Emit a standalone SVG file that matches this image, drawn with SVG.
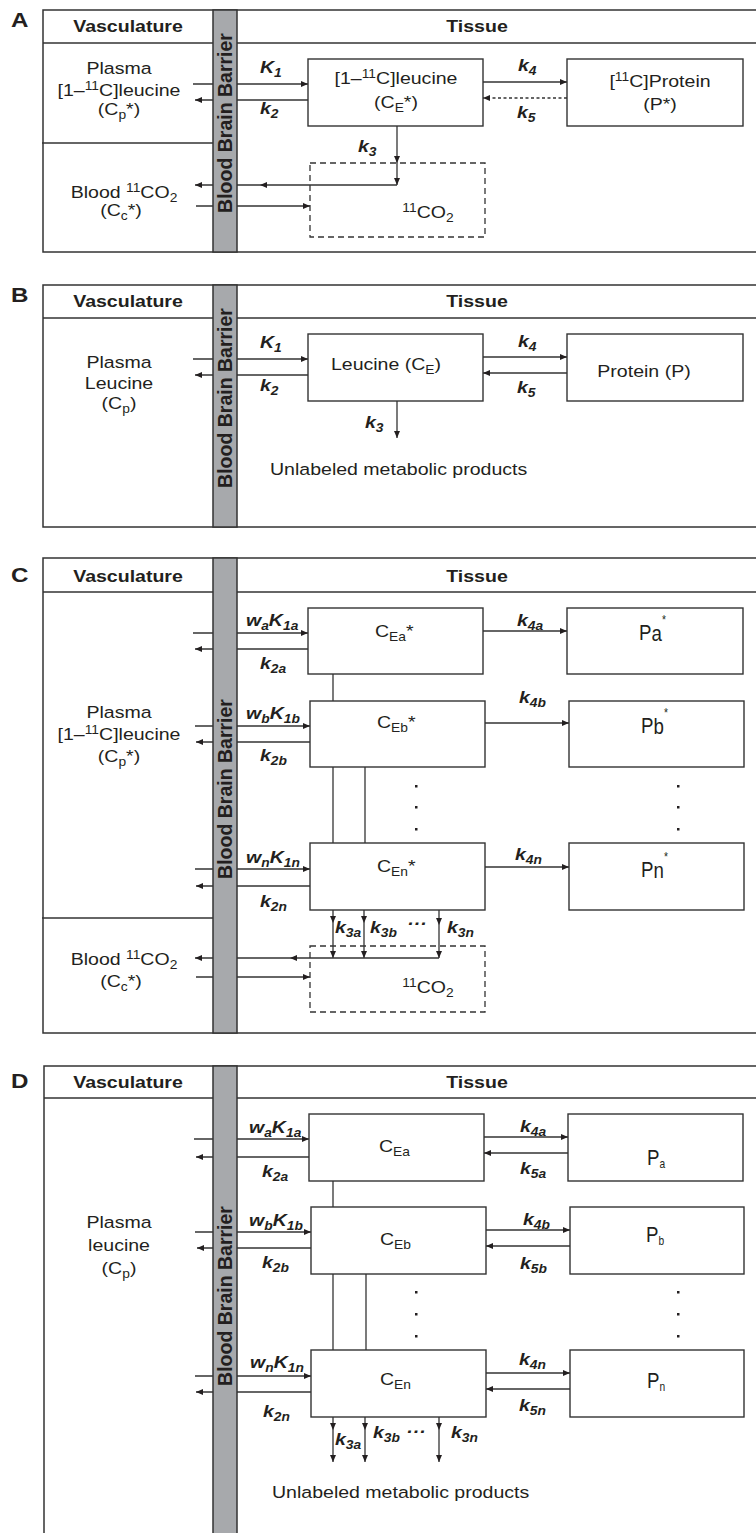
<svg xmlns="http://www.w3.org/2000/svg" width="756" height="1533" viewBox="0 0 756 1533">
<defs>
<style>
text{font-family:"Liberation Sans",Arial,Helvetica,sans-serif;fill:#231f20}
.fr{fill:none;stroke:#333;stroke-width:1.5}
.bx{fill:#fff;stroke:#333;stroke-width:1.4}
.dbx{fill:none;stroke:#333;stroke-width:1.3;stroke-dasharray:6 4}
.bbb{fill:#a7a9ac;stroke:#333;stroke-width:1.5}
.ln{fill:none;stroke:#333;stroke-width:1.3}
.ar{fill:none;stroke:#333;stroke-width:1.3;marker-end:url(#ah)}
.ard{fill:none;stroke:#333;stroke-width:1.3;stroke-dasharray:3 2.5;marker-end:url(#ah)}
.t{font-size:17px;text-anchor:middle}
.ts{font-size:17px}
.h{font-size:17px;font-weight:bold;text-anchor:middle}
.pl{font-size:21px;font-weight:bold}
.k{font-size:17px;font-weight:bold;font-style:italic}
.s{font-size:12px}
.bb{font-size:19.5px;font-weight:bold;text-anchor:middle}
.P{font-size:22px}
.dot{fill:#231f20}
</style>
<marker id="ah" markerWidth="7" markerHeight="6" refX="7" refY="3" orient="auto" markerUnits="userSpaceOnUse"><path d="M0,0 L7,3 L0,6 z" fill="#231f20"/></marker>
</defs>
<rect width="756" height="1533" fill="#fff"/>

<!-- ================= PANEL FRAMES ================= -->
<g id="panel-A-frame">
<rect class="fr" x="43" y="10" width="730" height="242"/>
<line class="fr" x1="43" y1="43" x2="756" y2="43"/>
<line class="fr" x1="42" y1="143" x2="213" y2="143"/>
<text class="pl" transform="translate(11 27) scale(1.15 1)">A</text>
<text class="h" transform="translate(128 32) scale(1.15 1)">Vasculature</text>
<text class="h" transform="translate(477 32) scale(1.15 1)">Tissue</text>
</g>
<g id="panel-B-frame">
<rect class="fr" x="43" y="285" width="730" height="242"/>
<line class="fr" x1="43" y1="318" x2="756" y2="318"/>
<text class="pl" transform="translate(11 302) scale(1.15 1)">B</text>
<text class="h" transform="translate(128 307) scale(1.15 1)">Vasculature</text>
<text class="h" transform="translate(477 307) scale(1.15 1)">Tissue</text>
</g>
<g id="panel-C-frame">
<rect class="fr" x="43" y="558" width="730" height="475"/>
<line class="fr" x1="43" y1="592" x2="756" y2="592"/>
<line class="fr" x1="42" y1="918" x2="213" y2="918"/>
<text class="pl" transform="translate(11 582) scale(1.15 1)">C</text>
<text class="h" transform="translate(128 582) scale(1.15 1)">Vasculature</text>
<text class="h" transform="translate(477 582) scale(1.15 1)">Tissue</text>
</g>
<g id="panel-D-frame">
<rect class="fr" x="44" y="1066" width="730" height="500"/>
<line class="fr" x1="44" y1="1098" x2="756" y2="1098"/>
<text class="pl" transform="translate(11 1088) scale(1.15 1)">D</text>
<text class="h" transform="translate(128 1088) scale(1.15 1)">Vasculature</text>
<text class="h" transform="translate(477 1088) scale(1.15 1)">Tissue</text>
</g>

<!-- ================= CONNECTORS ================= -->
<g id="connectors">
<!-- A -->
<line class="ar" x1="193" y1="84" x2="308" y2="84"/>
<line class="ar" x1="308" y1="100" x2="195" y2="100"/>
<line class="ar" x1="483" y1="82" x2="567" y2="82"/>
<line class="ard" x1="567" y1="98" x2="483" y2="98"/>
<line class="ar" x1="397" y1="126" x2="397" y2="163"/>
<line class="ar" x1="397" y1="163" x2="397" y2="185"/>
<line class="ar" x1="397" y1="185" x2="260" y2="185"/>
<line class="ar" x1="260" y1="185" x2="195" y2="185"/>
<line class="ar" x1="196" y1="206" x2="310" y2="206"/>
<!-- B -->
<line class="ar" x1="193" y1="359" x2="308" y2="359"/>
<line class="ar" x1="308" y1="375" x2="195" y2="375"/>
<line class="ar" x1="483" y1="357" x2="567" y2="357"/>
<line class="ar" x1="567" y1="373" x2="483" y2="373"/>
<line class="ar" x1="397" y1="401" x2="397" y2="438"/>
<!-- C -->
<line class="ar" x1="193" y1="633" x2="308" y2="633"/>
<line class="ar" x1="308" y1="649" x2="195" y2="649"/>
<line class="ar" x1="483" y1="631" x2="567" y2="631"/>
<line class="ln" x1="333" y1="674" x2="333" y2="701"/>
<line class="ar" x1="195" y1="726" x2="310" y2="726"/>
<line class="ar" x1="310" y1="742" x2="196" y2="742"/>
<line class="ar" x1="485" y1="723" x2="569" y2="723"/>
<line class="ln" x1="333" y1="767" x2="333" y2="843"/>
<line class="ln" x1="365" y1="767" x2="365" y2="843"/>
<line class="ar" x1="195" y1="869" x2="310" y2="869"/>
<line class="ar" x1="310" y1="886" x2="196" y2="886"/>
<line class="ar" x1="485" y1="867" x2="569" y2="867"/>
<line class="ar" x1="333" y1="910" x2="333" y2="923"/>
<line class="ar" x1="333" y1="923" x2="333" y2="958"/>
<line class="ar" x1="364" y1="910" x2="364" y2="923"/>
<line class="ar" x1="364" y1="923" x2="364" y2="958"/>
<line class="ar" x1="439" y1="910" x2="439" y2="925"/>
<line class="ar" x1="439" y1="925" x2="439" y2="958"/>
<line class="ar" x1="439" y1="958" x2="290" y2="958"/>
<line class="ar" x1="290" y1="958" x2="195" y2="958"/>
<line class="ar" x1="196" y1="977" x2="310" y2="977"/>
<!-- D -->
<line class="ar" x1="194" y1="1139" x2="309" y2="1139"/>
<line class="ar" x1="309" y1="1157" x2="196" y2="1157"/>
<line class="ar" x1="484" y1="1137" x2="568" y2="1137"/>
<line class="ar" x1="568" y1="1153" x2="484" y2="1153"/>
<line class="ln" x1="333" y1="1181" x2="333" y2="1207"/>
<line class="ar" x1="195" y1="1232" x2="311" y2="1232"/>
<line class="ar" x1="311" y1="1248" x2="197" y2="1248"/>
<line class="ar" x1="486" y1="1230" x2="570" y2="1230"/>
<line class="ar" x1="570" y1="1246" x2="486" y2="1246"/>
<line class="ln" x1="333" y1="1274" x2="333" y2="1350"/>
<line class="ln" x1="366" y1="1274" x2="366" y2="1350"/>
<line class="ar" x1="195" y1="1376" x2="311" y2="1376"/>
<line class="ar" x1="311" y1="1392" x2="196" y2="1392"/>
<line class="ar" x1="486" y1="1373" x2="570" y2="1373"/>
<line class="ar" x1="570" y1="1389" x2="486" y2="1389"/>
<line class="ar" x1="333" y1="1417" x2="333" y2="1430"/>
<line class="ar" x1="333" y1="1430" x2="333" y2="1462"/>
<line class="ar" x1="365" y1="1417" x2="365" y2="1430"/>
<line class="ar" x1="365" y1="1430" x2="365" y2="1462"/>
<line class="ar" x1="439" y1="1417" x2="439" y2="1430"/>
<line class="ar" x1="439" y1="1430" x2="439" y2="1462"/>
</g>

<!-- ================= CONNECTOR LABELS ================= -->
<g id="connector-labels">
<!-- A -->
<text class="k" transform="translate(260 73) scale(1.15 1)">K<tspan class="s" dy="4">1</tspan></text>
<text class="k" transform="translate(260 114) scale(1.15 1)">k<tspan class="s" dy="4">2</tspan></text>
<text class="k" transform="translate(358 152) scale(1.15 1)">k<tspan class="s" dy="4">3</tspan></text>
<text class="k" transform="translate(518 71) scale(1.15 1)">k<tspan class="s" dy="4">4</tspan></text>
<text class="k" transform="translate(517 118) scale(1.15 1)">k<tspan class="s" dy="4">5</tspan></text>
<!-- B -->
<text class="k" transform="translate(260 348) scale(1.15 1)">K<tspan class="s" dy="4">1</tspan></text>
<text class="k" transform="translate(260 391) scale(1.15 1)">k<tspan class="s" dy="4">2</tspan></text>
<text class="k" transform="translate(365 428) scale(1.15 1)">k<tspan class="s" dy="4">3</tspan></text>
<text class="k" transform="translate(518 347) scale(1.15 1)">k<tspan class="s" dy="4">4</tspan></text>
<text class="k" transform="translate(517 393) scale(1.15 1)">k<tspan class="s" dy="4">5</tspan></text>
<!-- C -->
<text class="k" transform="translate(246 626) scale(1.15 1)">w<tspan class="s" dy="4">a</tspan><tspan dy="-4">K</tspan><tspan class="s" dy="4">1a</tspan></text>
<text class="k" transform="translate(260 669) scale(1.15 1)">k<tspan class="s" dy="4">2a</tspan></text>
<text class="k" transform="translate(517 626) scale(1.15 1)">k<tspan class="s" dy="4">4a</tspan></text>
<text class="k" transform="translate(246 719) scale(1.15 1)">w<tspan class="s" dy="4">b</tspan><tspan dy="-4">K</tspan><tspan class="s" dy="4">1b</tspan></text>
<text class="k" transform="translate(260 761) scale(1.15 1)">k<tspan class="s" dy="4">2b</tspan></text>
<text class="k" transform="translate(519 703) scale(1.15 1)">k<tspan class="s" dy="4">4b</tspan></text>
<text class="k" transform="translate(246 863) scale(1.15 1)">w<tspan class="s" dy="4">n</tspan><tspan dy="-4">K</tspan><tspan class="s" dy="4">1n</tspan></text>
<text class="k" transform="translate(260 907) scale(1.15 1)">k<tspan class="s" dy="4">2n</tspan></text>
<text class="k" transform="translate(515 860) scale(1.15 1)">k<tspan class="s" dy="4">4n</tspan></text>
<text class="k" transform="translate(335 933) scale(1.15 1)">k<tspan class="s" dy="4">3a</tspan></text>
<text class="k" transform="translate(370 933) scale(1.15 1)">k<tspan class="s" dy="4">3b</tspan></text>
<text class="k" transform="translate(407 929) scale(1.15 1)">···</text>
<text class="k" transform="translate(447 933) scale(1.15 1)">k<tspan class="s" dy="4">3n</tspan></text>
<!-- D -->
<text class="k" transform="translate(249 1133) scale(1.15 1)">w<tspan class="s" dy="4">a</tspan><tspan dy="-4">K</tspan><tspan class="s" dy="4">1a</tspan></text>
<text class="k" transform="translate(262 1177) scale(1.15 1)">k<tspan class="s" dy="4">2a</tspan></text>
<text class="k" transform="translate(520 1132) scale(1.15 1)">k<tspan class="s" dy="4">4a</tspan></text>
<text class="k" transform="translate(520 1174) scale(1.15 1)">k<tspan class="s" dy="4">5a</tspan></text>
<text class="k" transform="translate(249 1226) scale(1.15 1)">w<tspan class="s" dy="4">b</tspan><tspan dy="-4">K</tspan><tspan class="s" dy="4">1b</tspan></text>
<text class="k" transform="translate(262 1268) scale(1.15 1)">k<tspan class="s" dy="4">2b</tspan></text>
<text class="k" transform="translate(523 1225) scale(1.15 1)">k<tspan class="s" dy="4">4b</tspan></text>
<text class="k" transform="translate(520 1269) scale(1.15 1)">k<tspan class="s" dy="4">5b</tspan></text>
<text class="k" transform="translate(250 1368) scale(1.15 1)">w<tspan class="s" dy="4">n</tspan><tspan dy="-4">K</tspan><tspan class="s" dy="4">1n</tspan></text>
<text class="k" transform="translate(263 1417) scale(1.15 1)">k<tspan class="s" dy="4">2n</tspan></text>
<text class="k" transform="translate(519 1365) scale(1.15 1)">k<tspan class="s" dy="4">4n</tspan></text>
<text class="k" transform="translate(519 1411) scale(1.15 1)">k<tspan class="s" dy="4">5n</tspan></text>
<text class="k" transform="translate(335 1445) scale(1.15 1)">k<tspan class="s" dy="4">3a</tspan></text>
<text class="k" transform="translate(373 1438) scale(1.15 1)">k<tspan class="s" dy="4">3b</tspan></text>
<text class="k" transform="translate(406 1437) scale(1.15 1)">···</text>
<text class="k" transform="translate(451 1438) scale(1.15 1)">k<tspan class="s" dy="4">3n</tspan></text>
</g>

<!-- ================= BLOOD BRAIN BARRIERS ================= -->
<g id="bbb-A">
<rect class="bbb" x="213" y="10" width="24" height="242"/>
<text class="bb" transform="translate(232 123) rotate(-90)">Blood Brain Barrier</text>
</g>
<g id="bbb-B">
<rect class="bbb" x="213" y="285" width="24" height="242"/>
<text class="bb" transform="translate(232 398) rotate(-90)">Blood Brain Barrier</text>
</g>
<g id="bbb-C">
<rect class="bbb" x="213" y="558" width="24" height="475"/>
<text class="bb" transform="translate(232 789) rotate(-90)">Blood Brain Barrier</text>
</g>
<g id="bbb-D">
<rect class="bbb" x="213" y="1066" width="24" height="480"/>
<text class="bb" transform="translate(232 1296) rotate(-90)">Blood Brain Barrier</text>
</g>

<!-- ================= PANEL A NODES ================= -->
<g id="A-plasma">
<text class="t" transform="translate(119 74) scale(1.15 1)">Plasma</text>
<text class="t" transform="translate(119 96) scale(1.15 1)">[1–<tspan class="s" dy="-6">11</tspan><tspan dy="6">C]leucine</tspan></text>
<text class="t" transform="translate(119 115) scale(1.15 1)">(C<tspan class="s" dy="4">p</tspan><tspan dy="-4">*)</tspan></text>
</g>
<g id="A-blood">
<text class="t" transform="translate(124 198) scale(1.15 1)">Blood <tspan class="s" dy="-6">11</tspan><tspan dy="6">CO</tspan><tspan class="s" dy="4">2</tspan></text>
<text class="t" transform="translate(121 216) scale(1.15 1)">(C<tspan class="s" dy="4">c</tspan><tspan dy="-4">*)</tspan></text>
</g>
<g id="A-CE">
<rect class="bx" x="308" y="59" width="175" height="67"/>
<text class="t" transform="translate(396 84) scale(1.15 1)">[1–<tspan class="s" dy="-6">11</tspan><tspan dy="6">C]leucine</tspan></text>
<text class="t" transform="translate(396 108) scale(1.15 1)">(C<tspan class="s" dy="4">E</tspan><tspan dy="-4">*)</tspan></text>
</g>
<g id="A-P">
<rect class="bx" x="567" y="59" width="176" height="67"/>
<text class="t" transform="translate(660 87) scale(1.15 1)">[<tspan class="s" dy="-6">11</tspan><tspan dy="6">C]Protein</tspan></text>
<text class="t" transform="translate(660 110) scale(1.15 1)">(P*)</text>
</g>
<g id="A-CO2">
<rect class="dbx" x="310" y="163" width="175" height="74"/>
<text class="t" transform="translate(428 218) scale(1.15 1)"><tspan class="s" dy="-6">11</tspan><tspan dy="6">CO</tspan><tspan class="s" dy="4">2</tspan></text>
</g>

<!-- ================= PANEL B NODES ================= -->
<g id="B-plasma">
<text class="t" transform="translate(119 368) scale(1.15 1)">Plasma</text>
<text class="t" transform="translate(119 389) scale(1.15 1)">Leucine</text>
<text class="t" transform="translate(119 409) scale(1.15 1)">(C<tspan class="s" dy="4">p</tspan><tspan dy="-4">)</tspan></text>
</g>
<g id="B-CE">
<rect class="bx" x="308" y="334" width="175" height="67"/>
<text class="t" transform="translate(386 370) scale(1.15 1)">Leucine (C<tspan class="s" dy="4">E</tspan><tspan dy="-4">)</tspan></text>
</g>
<g id="B-P">
<rect class="bx" x="567" y="334" width="176" height="67"/>
<text class="t" transform="translate(644 377) scale(1.15 1)">Protein (P)</text>
</g>
<g id="B-products">
<text class="ts" transform="translate(270 475) scale(1.15 1)">Unlabeled metabolic products</text>
</g>

<!-- ================= PANEL C NODES ================= -->
<g id="C-plasma">
<text class="t" transform="translate(119 718) scale(1.15 1)">Plasma</text>
<text class="t" transform="translate(119 740) scale(1.15 1)">[1–<tspan class="s" dy="-6">11</tspan><tspan dy="6">C]leucine</tspan></text>
<text class="t" transform="translate(119 762) scale(1.15 1)">(C<tspan class="s" dy="4">p</tspan><tspan dy="-4">*)</tspan></text>
</g>
<g id="C-blood">
<text class="t" transform="translate(124 965) scale(1.15 1)">Blood <tspan class="s" dy="-6">11</tspan><tspan dy="6">CO</tspan><tspan class="s" dy="4">2</tspan></text>
<text class="t" transform="translate(121 987) scale(1.15 1)">(C<tspan class="s" dy="4">c</tspan><tspan dy="-4">*)</tspan></text>
</g>
<g id="C-CEa">
<rect class="bx" x="308" y="608" width="175" height="66"/>
<text class="ts" transform="translate(375 637) scale(1.15 1)">C<tspan class="s" dy="4">Ea</tspan><tspan dy="-4">*</tspan></text>
</g>
<g id="C-Pa">
<rect class="bx" x="567" y="608" width="176" height="66"/>
<text class="P" transform="translate(639 640) scale(0.85 1)">P<tspan dy="1">a</tspan><tspan class="s" dy="-17">*</tspan></text>
</g>
<g id="C-CEb">
<rect class="bx" x="310" y="701" width="175" height="66"/>
<text class="ts" transform="translate(377 728) scale(1.15 1)">C<tspan class="s" dy="4">Eb</tspan><tspan dy="-4">*</tspan></text>
</g>
<g id="C-Pb">
<rect class="bx" x="569" y="701" width="175" height="66"/>
<text class="P" transform="translate(641 733) scale(0.85 1)">P<tspan dy="1">b</tspan><tspan class="s" dy="-17">*</tspan></text>
</g>
<g id="C-dots">
<rect class="dot" x="415" y="785" width="2.5" height="2.5"/>
<rect class="dot" x="415" y="806" width="2.5" height="2.5"/>
<rect class="dot" x="415" y="828" width="2.5" height="2.5"/>
<rect class="dot" x="677" y="785" width="2.5" height="2.5"/>
<rect class="dot" x="677" y="806" width="2.5" height="2.5"/>
<rect class="dot" x="677" y="828" width="2.5" height="2.5"/>
</g>
<g id="C-CEn">
<rect class="bx" x="310" y="843" width="175" height="67"/>
<text class="ts" transform="translate(377 872) scale(1.15 1)">C<tspan class="s" dy="4">En</tspan><tspan dy="-4">*</tspan></text>
</g>
<g id="C-Pn">
<rect class="bx" x="569" y="843" width="175" height="67"/>
<text class="P" transform="translate(641 877) scale(0.85 1)">P<tspan dy="1">n</tspan><tspan class="s" dy="-17">*</tspan></text>
</g>
<g id="C-CO2">
<rect class="dbx" x="310" y="946" width="175" height="66"/>
<text class="t" transform="translate(428 993) scale(1.15 1)"><tspan class="s" dy="-6">11</tspan><tspan dy="6">CO</tspan><tspan class="s" dy="4">2</tspan></text>
</g>

<!-- ================= PANEL D NODES ================= -->
<g id="D-plasma">
<text class="t" transform="translate(119 1228) scale(1.15 1)">Plasma</text>
<text class="t" transform="translate(119 1251) scale(1.15 1)">leucine</text>
<text class="t" transform="translate(119 1274) scale(1.15 1)">(C<tspan class="s" dy="4">p</tspan><tspan dy="-4">)</tspan></text>
</g>
<g id="D-CEa">
<rect class="bx" x="309" y="1114" width="175" height="67"/>
<text class="ts" transform="translate(379 1152) scale(1.15 1)">C<tspan class="s" dy="4">Ea</tspan></text>
</g>
<g id="D-Pa">
<rect class="bx" x="568" y="1114" width="175" height="67"/>
<text class="P" transform="translate(647 1165) scale(0.85 1)">P<tspan class="s" dy="3">a</tspan></text>
</g>
<g id="D-CEb">
<rect class="bx" x="311" y="1207" width="175" height="67"/>
<text class="ts" transform="translate(380 1245) scale(1.15 1)">C<tspan class="s" dy="4">Eb</tspan></text>
</g>
<g id="D-Pb">
<rect class="bx" x="570" y="1207" width="174" height="67"/>
<text class="P" transform="translate(646 1242) scale(0.85 1)">P<tspan class="s" dy="3">b</tspan></text>
</g>
<g id="D-dots">
<rect class="dot" x="415" y="1291" width="2.5" height="2.5"/>
<rect class="dot" x="415" y="1313" width="2.5" height="2.5"/>
<rect class="dot" x="415" y="1335" width="2.5" height="2.5"/>
<rect class="dot" x="677" y="1291" width="2.5" height="2.5"/>
<rect class="dot" x="677" y="1313" width="2.5" height="2.5"/>
<rect class="dot" x="677" y="1335" width="2.5" height="2.5"/>
</g>
<g id="D-CEn">
<rect class="bx" x="311" y="1350" width="175" height="67"/>
<text class="ts" transform="translate(380 1385) scale(1.15 1)">C<tspan class="s" dy="4">En</tspan></text>
</g>
<g id="D-Pn">
<rect class="bx" x="570" y="1350" width="174" height="67"/>
<text class="P" transform="translate(647 1388) scale(0.85 1)">P<tspan class="s" dy="3">n</tspan></text>
</g>
<g id="D-products">
<text class="ts" transform="translate(272 1498) scale(1.15 1)">Unlabeled metabolic products</text>
</g>
</svg>
